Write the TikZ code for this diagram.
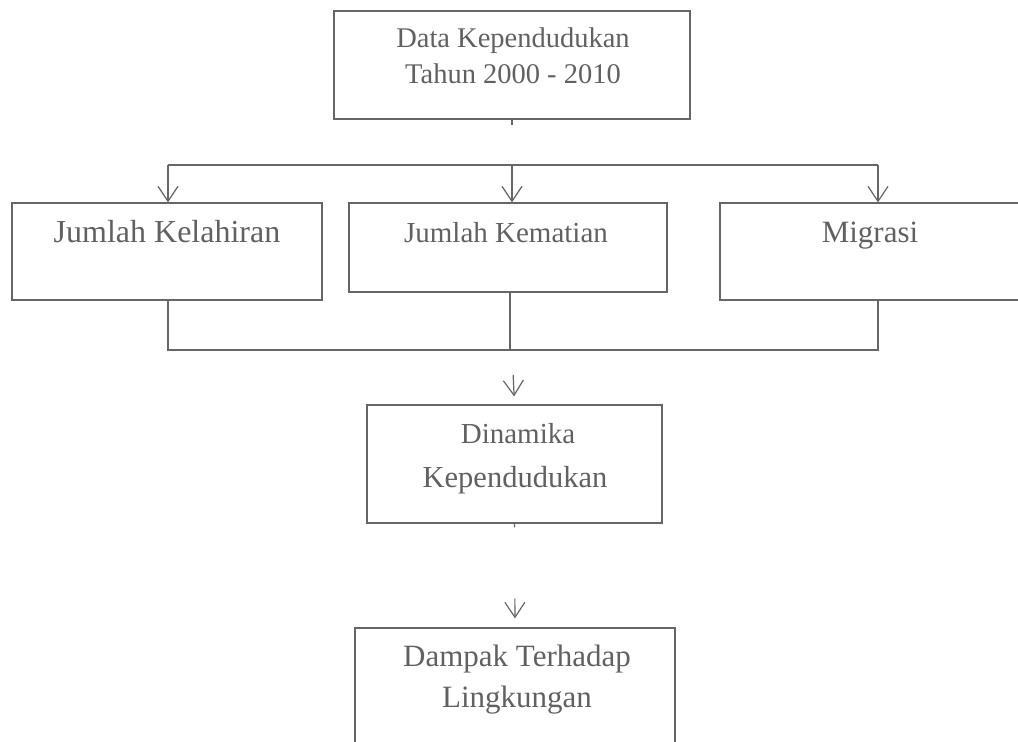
\documentclass[tikz,border=0pt]{standalone}
\usepackage{fontspec}
\setmainfont{Liberation Serif}
\usetikzlibrary{arrows.meta}
\definecolor{ln}{rgb}{0.40,0.40,0.40}
\definecolor{tx}{rgb}{0.38,0.38,0.38}
\tikzset{
  boxs/.style={draw=ln, line width=1.2pt, rectangle, inner sep=0pt},
  txt/.style={anchor=base, text=tx, inner sep=0pt, font=\fontsize{30}{36}\selectfont},
  fs/.style={font=\fontsize{#1}{36}\selectfont},
  conn/.style={draw=ln, line width=1.2pt},
  arr/.style={conn, -{Straight Barb[length=15pt,width=20pt,line width=1.2pt]}}
}
\begin{document}
\begin{tikzpicture}[x=1pt,y=-1pt]
\useasboundingbox (0,0) rectangle (1018,742);
\clip (0,0) rectangle (1018,742);
% boxes
\node[boxs, minimum width=356pt, minimum height=108pt] (top) at (512,65) {};
\node[boxs, minimum width=310pt, minimum height=97pt] (b1) at (167,251.5) {};
\node[boxs, minimum width=318pt, minimum height=89pt] (b2) at (508,247.5) {};
\node[boxs, minimum width=310pt, minimum height=97pt] (b3) at (875,251.5) {};
\node[boxs, minimum width=295pt, minimum height=118pt] (dyn) at (514.5,464) {};
\node[boxs, minimum width=320pt, minimum height=132pt] (damp) at (515,694) {};
% texts
\node[txt, fs=28.5] (ttop1) at (513,47) {Data Kependudukan};
\node[txt, fs=28.5] (ttop2) at (513,83) {Tahun 2000 - 2010};
\node[txt, fs=32] (tb1) at (167,242) {Jumlah Kelahiran};
\node[txt, fs=29] (tb2) at (506,242) {Jumlah Kematian};
\node[txt, fs=31] (tb3) at (870,242) {Migrasi};
\node[txt, fs=29] (tdyn1) at (518,443) {Dinamika};
\node[txt, fs=30.5] (tdyn2) at (515,487) {Kependudukan};
\node[txt, fs=31] (tdamp1) at (517,666) {Dampak Terhadap};
\node[txt, fs=31] (tdamp2) at (517,707) {Lingkungan};
% junction coordinates
\coordinate (jt) at (512,165);
\coordinate (jtl) at (168,165);
\coordinate (jtr) at (878,165);
\coordinate (jb) at (512,350);
\coordinate (jbl) at (168,350);
\coordinate (jbm) at (510,350);
\coordinate (jbr) at (878,350);
% top connectors
\draw[conn, shorten >=40pt] (top.south) -- (jt);
\draw[conn] (jtl) -- (jtr);
\draw[arr] (jtl) -- (jtl |- b1.north);
\draw[arr] (jt) -- (jt |- b2.north);
\draw[arr] (jtr) -- (jtr |- b3.north);
% bottom connectors
\draw[conn] (jbl |- b1.south) -- (jbl) -- (jbr) -- (jbr |- b3.south);
\draw[conn] (jbm |- b2.south) -- (jbm);
\draw[arr, shorten <=25pt, shorten >=8pt] (jb) -- (dyn.north);
\draw[conn, shorten >=100pt] (dyn.south) -- (damp.north);
\draw[arr, shorten <=75pt, shorten >=9pt] (dyn.south) -- (damp.north);
\end{tikzpicture}
\end{document}
